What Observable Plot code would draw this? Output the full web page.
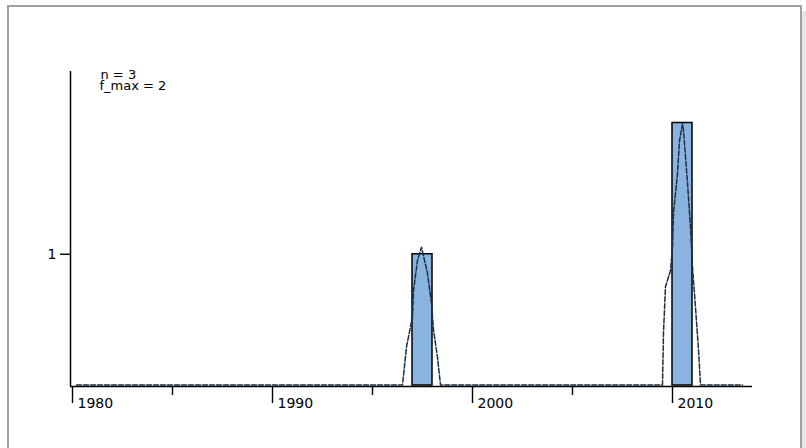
<!DOCTYPE html>
<html>
<head>
<meta charset="utf-8">
<script src="https://cdn.jsdelivr.net/npm/d3@7"></script>
<script src="https://cdn.jsdelivr.net/npm/@observablehq/plot@0.6"></script>
<style>
  html, body { margin: 0; padding: 0; background: #fff; width: 806px; height: 448px; overflow: hidden; }
  #frame { position: absolute; left: 7px; top: 5px; width: 791px; height: 460px; border: 2px solid #a0a0a0; box-shadow: 4px 6px 0 #e6e6e6; background: #fff; }
  #chart { position: absolute; left: 0; top: 0; }
  #chart svg text { font-family: "DejaVu Sans", Verdana, sans-serif; }
</style>
</head>
<body>
<div id="frame"></div>
<div id="chart"></div>
<script>
// Histogram bins (year start, count)
const binYears = [1997, 2010];
const binCounts = [1, 2];
const binWidth = 1;

// Dashed smoothed curve: baseline + two bumps
const curveX = [1980.2, 1996.5, 1996.7, 1997.0, 1997.05, 1997.25, 1997.45, 1997.75, 1997.95, 1998.05, 1998.25, 1998.4,
                2009.5, 2009.55, 2009.65, 2009.9, 2010.0, 2010.05, 2010.25, 2010.35, 2010.5, 2010.55, 2010.75, 2010.9, 2011.0, 2011.15, 2011.3, 2011.4, 2013.5];
const curveY = [0, 0, 0.29, 0.52, 0.72, 0.95, 1.05, 0.85, 0.62, 0.42, 0.21, 0,
                0, 0.40, 0.75, 0.87, 1.05, 1.31, 1.61, 1.86, 1.99, 1.94, 1.54, 1.20, 0.90, 0.59, 0.27, 0, 0];

const majorTicks = [1980, 1990, 2000, 2010];
const minorTicks = [1985, 1995, 2005];
const yTicks = [1];
const xDomain = [1979.9, 2014];
const yDomain = [0, 2.4];
const annotation = ["n = 3", "f_max = 2"];

const bins = binYears.map((y, i) => ({x1: y, x2: y + binWidth, count: binCounts[i]}));
const curve = curveX.map((x, i) => ({x, y: curveY[i]}));

const chart = Plot.plot({
  width: 806,
  height: 448,
  marginLeft: 70,
  marginRight: 54,
  marginTop: 70,
  marginBottom: 63,
  style: {background: "transparent", fontFamily: "DejaVu Sans, Verdana, sans-serif", fontSize: "13px", color: "#000", overflow: "visible"},
  x: {domain: xDomain},
  y: {domain: yDomain},
  marks: [
    Plot.rectY(bins, {x1: "x1", x2: "x2", y: "count", fill: "#8ab4e0", stroke: "#000", strokeWidth: 1.5}),
    Plot.ruleY([0], {stroke: "#000", strokeWidth: 1.5, dy: 1}),
    Plot.ruleX([xDomain[0]], {stroke: "#000", strokeWidth: 1.5, y1: 0, y2: yDomain[1], dy: 1}),
    Plot.line(curve, {x: "x", y: "y", stroke: "#1e2d42", strokeWidth: 1.5, strokeDasharray: "5,2", dy: -0.5}),
    // major tick marks
    Plot.axisX({ticks: majorTicks, tickSize: 17, tickFormat: () => "", strokeWidth: 1.4, label: null, dy: 1}),
    // major tick labels, set to the right of the ticks
    Plot.axisX({ticks: majorTicks, tickSize: 0, tickPadding: 13, tickFormat: d => String(d), textAnchor: "start", dx: 5, label: null, fontSize: 14}),
    // minor tick marks
    Plot.axisX({ticks: minorTicks, tickSize: 9, tickFormat: () => "", strokeWidth: 1.4, label: null, dy: 1}),
    Plot.axisY({ticks: yTicks, tickSize: 10, tickPadding: 4, tickFormat: d => String(d), strokeWidth: 1.4, label: null, fontSize: 14}),
    Plot.text([annotation[0]], {frameAnchor: "top-left", dx: 30, dy: -1, textAnchor: "start", fontSize: 13, text: d => d}),
    Plot.text([annotation[1]], {frameAnchor: "top-left", dx: 29, dy: 10, textAnchor: "start", fontSize: 13, text: d => d})
  ]
});
document.getElementById("chart").appendChild(chart);
</script>
</body>
</html>
